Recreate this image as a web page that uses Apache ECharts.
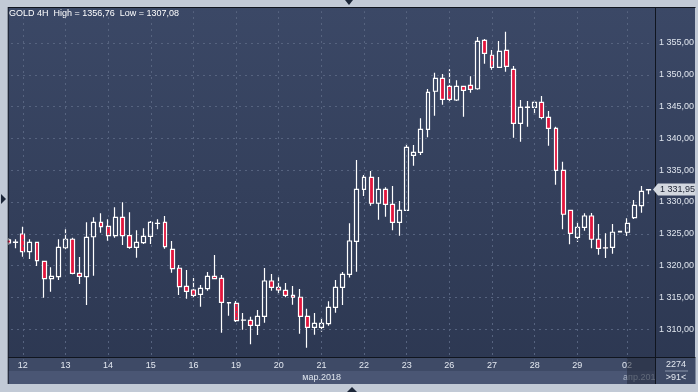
<!DOCTYPE html>
<html><head><meta charset="utf-8">
<script src="https://cdn.jsdelivr.net/npm/echarts@6/dist/echarts.min.js"></script>
<style>html,body{margin:0;padding:0;background:#c2cad6;} #c{width:698px;height:392px;}</style>
</head><body><div id="c"></div>
<script>
// ---- data (4H candles, GOLD) ----
const opens = [1324.03,1323.70,1324.97,1322.19,1323.66,1320.68,1317.94,1318.26,1322.81,1324.14,
1318.79,1318.26,1324.54,1326.81,1326.18,1324.70,1327.59,1324.70,1322.88,1323.60,
1324.61,1326.62,1326.81,1322.56,1319.58,1316.74,1316.16,1315.49,1316.37,1318.32,
1318.00,1314.20,1314.07,1311.42,1311.40,1310.61,1312.03,1317.58,1316.59,1316.12,
1315.33,1315.02,1312.03,1310.30,1310.30,1310.87,1313.44,1316.59,1318.63,1323.82,
1332.00,1333.88,1329.80,1332.00,1329.64,1326.81,1328.69,1337.34,1337.81,1341.43,
1347.41,1349.45,1348.19,1346.04,1348.19,1348.35,1347.81,1355.42,1353.07,1351.18,
1353.85,1350.86,1342.37,1344.89,1344.89,1345.68,1343.32,1341.59,1334.98,1328.69,
1324.45,1326.02,1327.80,1324.14,1322.81,1322.88,1325.30,1325.24,1327.53,1329.42,1331.90];
const closes = [1323.55,1323.66,1322.19,1323.66,1320.77,1317.94,1318.32,1322.88,1324.14,1318.79,
1318.32,1324.45,1326.81,1326.12,1324.70,1327.59,1324.70,1322.88,1323.66,1324.61,
1326.81,1326.65,1322.97,1319.51,1316.68,1315.96,1315.33,1316.43,1318.32,1317.94,
1314.23,1314.15,1311.34,1311.45,1310.61,1312.03,1317.58,1316.59,1316.16,1315.33,
1315.02,1312.03,1310.30,1310.93,1310.93,1313.44,1316.59,1318.63,1323.87,1332.00,
1333.88,1329.80,1332.00,1329.64,1326.81,1328.69,1338.60,1337.81,1341.43,1347.25,
1349.45,1346.15,1346.15,1348.19,1347.56,1347.72,1355.27,1353.38,1351.18,1353.69,
1351.34,1342.37,1344.89,1344.92,1345.68,1343.29,1341.59,1334.98,1328.07,1325.08,
1326.02,1327.80,1324.14,1322.72,1322.78,1325.24,1325.40,1326.65,1329.48,1331.68,1331.95];
const lows = [1323.24,1322.72,1321.40,1321.04,1319.94,1314.95,1315.90,1317.74,1322.56,1318.63,
1317.11,1313.81,1318.41,1325.17,1323.92,1324.39,1323.24,1322.66,1321.24,1323.40,
1323.40,1325.71,1322.66,1318.88,1315.38,1314.80,1315.02,1313.54,1316.05,1317.90,
1309.45,1312.12,1311.13,1309.92,1307.63,1309.09,1311.02,1316.05,1315.42,1315.02,
1313.85,1309.29,1307.08,1309.14,1309.61,1310.55,1312.59,1313.81,1318.13,1319.04,
1330.94,1329.42,1327.22,1327.69,1325.55,1324.70,1328.69,1335.71,1337.39,1340.17,
1343.57,1345.30,1345.61,1345.88,1343.41,1347.19,1347.66,1351.75,1350.80,1351.18,
1350.49,1340.11,1339.48,1341.84,1343.68,1343.00,1338.85,1332.72,1325.71,1323.35,
1323.71,1325.49,1322.72,1321.71,1321.19,1321.87,1325.25,1324.65,1327.33,1328.32,1331.21];
const highs = [1324.34,1324.14,1326.12,1324.14,1323.76,1320.72,1319.73,1324.14,1325.71,1324.39,
1321.35,1326.81,1327.59,1328.22,1327.28,1329.17,1329.95,1328.38,1325.55,1325.86,
1327.00,1327.28,1327.80,1323.87,1320.09,1319.31,1318.05,1316.95,1318.99,1321.67,
1318.52,1314.25,1314.43,1312.55,1311.97,1313.02,1319.62,1318.68,1318.16,1317.26,
1316.79,1316.32,1313.22,1312.55,1311.76,1314.39,1317.74,1318.99,1326.65,1336.60,
1334.25,1334.87,1333.93,1332.31,1332.52,1330.16,1339.12,1338.96,1343.16,1347.77,
1350.33,1350.13,1350.86,1349.13,1348.19,1349.76,1355.94,1355.63,1353.90,1355.31,
1356.76,1351.38,1346.04,1345.88,1345.93,1346.67,1344.31,1341.84,1336.34,1328.69,
1326.81,1328.22,1328.27,1326.54,1325.08,1326.54,1325.45,1327.44,1330.31,1332.52,1332.00];
const dayStartIndex = [2,8,14,20,26,32,38,44,50,56,62,68,74,80,87];
const dayLabels = ['12','13','14','15','16','19','20','21','22','23','26','27','28','29','02'];
const yMin = 1305, yMax = 1360, yStep = 5;
const lastPrice = 1331.95;
const titleText = 'GOLD 4H  High = 1356,76  Low = 1307,08';
const monthLabels = ['мар.2018', 'апр.2018'];
const barCount = '2274', visibleBars = '>91<';

const categories = opens.map((_, i) => 'b' + i);
const candleData = opens.map((o, i) => [o, closes[i], lows[i], highs[i]]);

function fmt(v) {
  const s = v.toFixed(2).split('.');
  return s[0].replace(/\B(?=(\d{3})+(?!\d))/g, ' ') + ',' + s[1];
}
const FONT = '"Liberation Sans", Arial, sans-serif';
const BG = '#c2cad6';
const BORDER = '#10151f';

const chart = echarts.init(document.getElementById('c'), null, {renderer: 'canvas'});
const gridLines = dayStartIndex.map(i => ({xAxis: categories[i]}));

const graphics = [
  {type: 'rect', z: -10, silent: true, shape: {x: 8, y: 7, width: 687, height: 377},
    style: {fill: new echarts.graphic.LinearGradient(0, 0, 0, 1, [
      {offset: 0, color: '#3b4866'}, {offset: 1, color: '#2c3751'}])}},
  {type: 'rect', z: 5, silent: true, shape: {x: 8, y: 357, width: 648, height: 14}, style: {fill: '#3e4a66'}},
  {type: 'rect', z: 5, silent: true, shape: {x: 8, y: 371, width: 648, height: 13}, style: {fill: '#4a5674'}},
  {type: 'text', z: 11, silent: true, x: 341, y: 377.5,
    style: {text: monthLabels[0], fill: '#dfe5ee', font: '9px ' + FONT, align: 'right', verticalAlign: 'middle'}},
  {type: 'text', z: 11, silent: true, x: 623, y: 377.5,
    style: {text: monthLabels[1], fill: '#aab3c4', font: '9px ' + FONT, align: 'left', verticalAlign: 'middle'}},
  {type: 'rect', z: 12, silent: true, shape: {x: 627, y: 357, width: 29, height: 27}, style: {fill: 'rgba(34,41,58,0.55)'}},
  {type: 'rect', z: 12, silent: true, shape: {x: 656, y: 357, width: 40, height: 27}, style: {fill: '#3e4a66'}},
  {type: 'text', z: 13, silent: true, x: 676, y: 364.5,
    style: {text: barCount, fill: '#e4e9f1', font: '9px ' + FONT, align: 'center', verticalAlign: 'middle'}},
  {type: 'line', z: 13, silent: true, shape: {x1: 665, y1: 371, x2: 688, y2: 371}, style: {stroke: '#8a95aa', lineWidth: 1}},
  {type: 'text', z: 13, silent: true, x: 676, y: 378,
    style: {text: visibleBars, fill: '#e4e9f1', font: '9px ' + FONT, align: 'center', verticalAlign: 'middle'}},
  {type: 'line', z: 15, silent: true, shape: {x1: 8, y1: 7.5, x2: 696, y2: 7.5}, style: {stroke: BORDER, lineWidth: 1}},
  {type: 'line', z: 15, silent: true, shape: {x1: 8, y1: 7, x2: 8, y2: 384}, style: {stroke: BORDER, lineWidth: 1.2}},
  {type: 'line', z: 15, silent: true, shape: {x1: 8, y1: 357.5, x2: 696, y2: 357.5}, style: {stroke: BORDER, lineWidth: 1}},
  {type: 'line', z: 15, silent: true, shape: {x1: 655.5, y1: 7, x2: 655.5, y2: 384}, style: {stroke: BORDER, lineWidth: 1}},
  {type: 'rect', z: 20, silent: true, shape: {x: 0, y: 0, width: 7.5, height: 392}, style: {fill: BG}},
  {type: 'rect', z: 20, silent: true, shape: {x: 0, y: 0, width: 698, height: 7}, style: {fill: BG}},
  {type: 'rect', z: 20, silent: true, shape: {x: 0, y: 384, width: 698, height: 8}, style: {fill: BG}},
  {type: 'rect', z: 20, silent: true, shape: {x: 695.5, y: 0, width: 3, height: 392}, style: {fill: BG}},
  {type: 'polygon', z: 21, silent: true, shape: {points: [[345, 0], [353, 0], [349, 5]]}, style: {fill: '#1c2638'}},
  {type: 'polygon', z: 21, silent: true, shape: {points: [[347, 392], [357, 392], [352, 387]]}, style: {fill: '#1c2638'}},
  {type: 'polygon', z: 21, silent: true, shape: {points: [[1, 194], [1, 204], [6, 199]]}, style: {fill: '#1c2638'}}
];

chart.setOption({
  animation: false,
  backgroundColor: BG,
  title: {
    text: titleText, left: 9, top: 9, padding: 0,
    textStyle: {color: '#ffffff', fontSize: 9, fontWeight: 'normal', fontFamily: FONT}
  },
  grid: {left: 5, right: 46, top: 11.2, bottom: 31, containLabel: false},
  xAxis: {
    type: 'category', data: categories, boundaryGap: true, z: 10,
    axisLine: {show: false}, axisTick: {show: false}, splitLine: {show: false},
    axisLabel: {
      margin: 0, color: '#e4e9f1', fontSize: 9, fontFamily: FONT,
      interval: (index) => dayStartIndex.indexOf(index) >= 0,
      formatter: (val, index) => {
        const k = dayStartIndex.indexOf(index);
        return k >= 0 ? dayLabels[k] : '';
      }
    }
  },
  yAxis: {
    type: 'value', position: 'right', min: yMin, max: yMax, interval: yStep,
    axisLine: {show: false}, axisTick: {show: false},
    axisLabel: {
      formatter: fmt, color: '#dfe5ee', fontSize: 9, fontFamily: FONT, margin: 7,
      showMinLabel: false, showMaxLabel: false
    },
    splitLine: {show: true, showMinLine: false, showMaxLine: false,
      lineStyle: {color: '#56637f', type: [2, 4], width: 1}}
  },
  series: [{
    type: 'candlestick',
    data: candleData,
    barWidth: 4.4,
    itemStyle: {
      color: 'rgba(0,0,0,0)', color0: '#e3163d',
      borderColor: '#ffffff', borderColor0: '#ffffff', borderWidth: 1.2
    },
    markLine: {
      silent: true, symbol: 'none', animation: false,
      label: {show: false},
      lineStyle: {color: '#56637f', type: [2, 4], width: 1},
      data: gridLines
    }
  }],
  graphic: graphics
});

// current-price tag on the price scale, positioned through the axis
const ty = chart.convertToPixel({yAxisIndex: 0}, lastPrice);
graphics.push(
  {type: 'polygon', z: 16, silent: true,
    shape: {points: [[653, ty], [658, ty - 6], [697, ty - 6], [697, ty + 6], [658, ty + 6]]},
    style: {fill: '#d3d8df'}},
  {type: 'text', z: 17, silent: true, x: 660, y: ty,
    style: {text: fmt(lastPrice), fill: '#1a2030', font: '9px ' + FONT, align: 'left', verticalAlign: 'middle'}}
);
chart.setOption({graphic: graphics});
</script>
</body></html>
